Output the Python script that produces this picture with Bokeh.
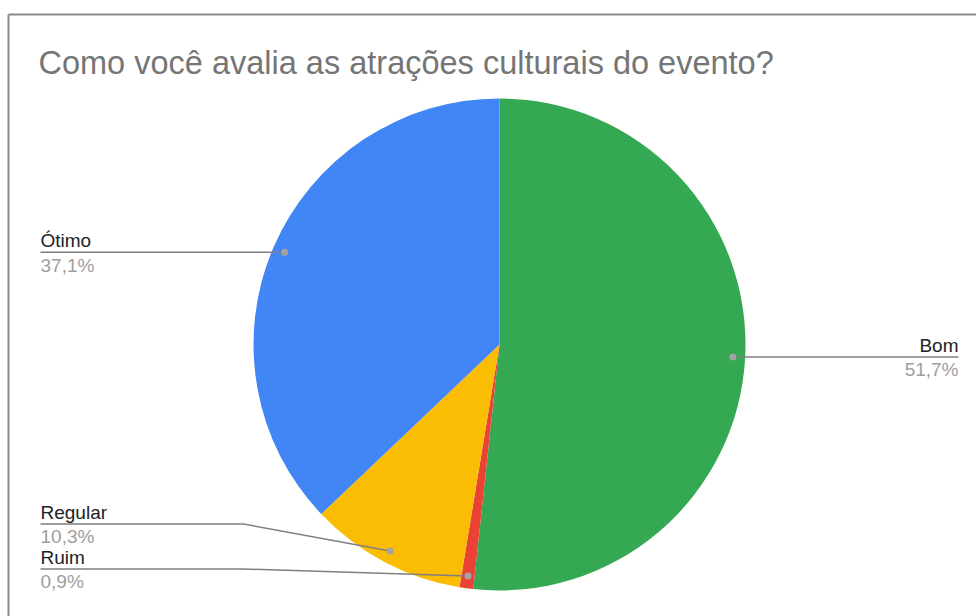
import numpy as np
from bokeh.plotting import figure
from bokeh.models import Range1d
from bokeh.core.properties import value
from bokeh.embed import file_html
from bokeh.resources import INLINE

# ---- data ----
title = "Como você avalia as atrações culturais do evento?"
categories = ["Bom", "Ruim", "Regular", "Ótimo"]
percent = [51.7, 0.9, 10.3, 37.1]
pct_labels = ["51,7%", "0,9%", "10,3%", "37,1%"]
colors = ["#34a853", "#ea4335", "#fbbc04", "#4285f4"]

# ---- layout ----
W, H = 976, 616
cx, cy_pix = 499, 344
R = 246
FONT = value("Liberation Sans")
TITLE_FS = 32.5
LABEL_FS = 19
SHIFT = 0.3  # baseline correction (fraction of font size)


def Y(y):
    return H - y


p = figure(width=W, height=H, x_range=Range1d(0, W), y_range=Range1d(0, H),
           x_axis_type=None, y_axis_type=None, toolbar_location=None,
           output_backend="svg", min_border=0, outline_line_color=None,
           background_fill_color="white", border_fill_color="white")
p.grid.visible = False

# frame border (top & left visible)
p.line(x=[8, W], y=[Y(14), Y(14)], line_color="#8c8c8c", line_width=2)
p.line(x=[8, 8], y=[Y(14), 0], line_color="#8c8c8c", line_width=2)

# title
p.text(x=[38], y=[Y(72 - SHIFT * TITLE_FS)], text=[title], text_font=FONT,
       text_font_size=value(f"{TITLE_FS}px"), text_color="#757575",
       text_baseline="alphabetic", text_align="left")

# pie slices: clockwise from 12 o'clock
frac = np.array(percent) / sum(percent)
cum = np.concatenate([[0], np.cumsum(frac)]) * 2 * np.pi
starts = np.pi / 2 - cum[:-1]
ends = np.pi / 2 - cum[1:]
mid = (cum[:-1] + cum[1:]) / 2

p.wedge(x=[cx] * len(categories), y=[Y(cy_pix)] * len(categories),
        radius=R, radius_units="screen",
        start_angle=list(starts), end_angle=list(ends), direction="clock",
        fill_color=colors, line_color=None)

# label anchor dots
dot_x = cx + 0.95 * R * np.sin(mid)
dot_y = cy_pix - 0.95 * R * np.cos(mid)

# label placement (side, line y in pixels)
sides = {"Bom": "right", "Ruim": "left", "Regular": "left", "Ótimo": "left"}
line_y = {"Bom": None, "Ótimo": None, "Regular": 523.5, "Ruim": 568.5}
LEFT_X, ELBOW_X, RIGHT_X = 40, 243, 958

for i, cat in enumerate(categories):
    ly = line_y[cat] if line_y[cat] is not None else dot_y[i]
    if sides[cat] == "left":
        xs = [LEFT_X, ELBOW_X, dot_x[i]]
        ys = [Y(ly), Y(ly), Y(dot_y[i])]
        tx, align = LEFT_X, "left"
    else:
        xs = [RIGHT_X, dot_x[i]]
        ys = [Y(ly), Y(dot_y[i])]
        tx, align = RIGHT_X, "right"
    p.line(x=xs, y=ys, line_color="#7f7f7f", line_width=1.5)
    p.scatter(x=[dot_x[i]], y=[Y(dot_y[i])], size=7, marker="circle",
              fill_color="#a3a3a3", line_color=None)
    p.text(x=[tx], y=[Y(ly - 6 - SHIFT * LABEL_FS)], text=[cat], text_font=FONT,
           text_font_size=value(f"{LABEL_FS}px"), text_color="#222222",
           text_baseline="alphabetic", text_align=align)
    p.text(x=[tx], y=[Y(ly + 18.5 - SHIFT * LABEL_FS)], text=[pct_labels[i]],
           text_font=FONT, text_font_size=value(f"{LABEL_FS}px"),
           text_color="#9e9e9e", text_baseline="alphabetic", text_align=align)

open("out.html", "w").write(file_html(p, INLINE))
